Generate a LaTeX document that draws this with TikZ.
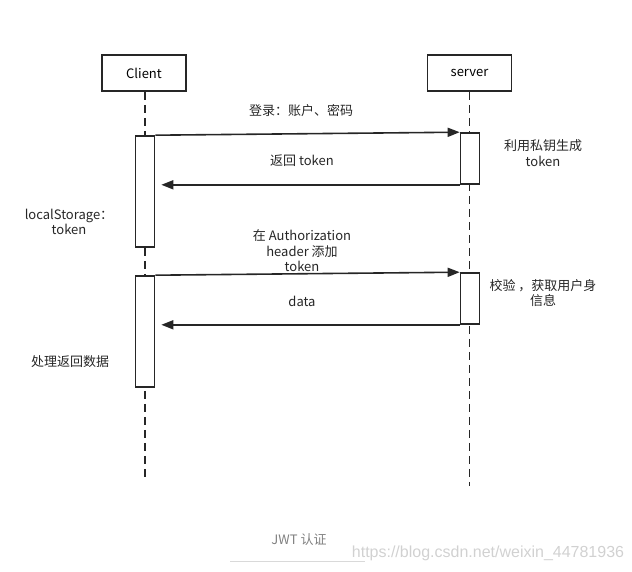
\documentclass[tikz,border=0pt]{standalone}
\usepackage{fontspec}
\setmainfont{Noto Sans CJK SC}
\usetikzlibrary{arrows.meta}
\begin{document}
\begin{tikzpicture}[x=1pt,y=-1pt,
  actor/.style={draw=black!85,line width=1.6pt,minimum width=84pt,minimum height=36pt,inner sep=0pt,font=\fontsize{13}{15}\selectfont},
  bar/.style={draw=black!85,fill=white,line width=1.6pt,minimum width=19pt,inner sep=0pt},
  life/.style={draw=black!85,line width=1.6pt,dash pattern=on 8pt off 5pt},
  msg/.style={draw=black!85,line width=1.6pt,-{Triangle[length=12pt,width=9pt]}},
  lbl/.style={font=\fontsize{13}{15.5}\selectfont,align=center,text=black!85,inner sep=0pt}]
\useasboundingbox (0,0) rectangle (632,572);
% actors
\node[actor] (client) at (144,73) {Client};
\node[actor] (server) at (469.5,73) {server};
\coordinate (cend) at (145,478);
\coordinate (send) at (469.5,486);
\draw[life] (client.south -| cend) -- (cend);
\draw[life] (server.south) -- (send);
% activation bars
\node[bar,minimum height=111pt] (ca1) at (145,191.5) {};
\node[bar,minimum height=111pt] (ca2) at (145,331.5) {};
\node[bar,minimum height=51pt] (sa1) at (470,158.5) {};
\node[bar,minimum height=51pt] (sa2) at (470,298.5) {};
% messages
\draw[msg] (ca1.north east) -- (sa1.north west);
\draw[msg,shorten >=6pt] (sa1.south west) -- (sa1.south west -| ca1.east);
\draw[msg] (ca2.north east) -- (sa2.north west);
\draw[msg,shorten >=6pt] (sa2.south west) -- (sa2.south west -| ca2.east);
% labels
\node[lbl] (l1) at (301,111) {登录：账户、密码};
\node[lbl] (l2) at (302,161) {返回 token};
\node[lbl] (l3) at (543,153) {利用私钥生成\\token};
\node[lbl] (l4) at (69,222) {localStorage：\\token};
\node[lbl] (l5) at (302,251) {在 Authorization\\header 添加\\token};
\node[lbl] (l6) at (543,293) {校验 ，获取用户身\\信息};
\node[lbl] (l7) at (302,301) {data};
\node[lbl] (l8) at (70,362) {处理返回数据};
% caption
\node[lbl,text=black!50] (cap) at (299,540) {JWT 认证};
\coordinate (ula) at (230,561);
\coordinate (ulb) at (365,561);
\draw[black!15,line width=0.8pt] (ula) -- (ulb);
\node[font=\fontsize{16}{18}\selectfont,text=black!18,inner sep=0pt] (wm) at (488,553) {\fontspec{Liberation Sans}https://blog.csdn.net/weixin\_44781936};
\end{tikzpicture}
\end{document}
